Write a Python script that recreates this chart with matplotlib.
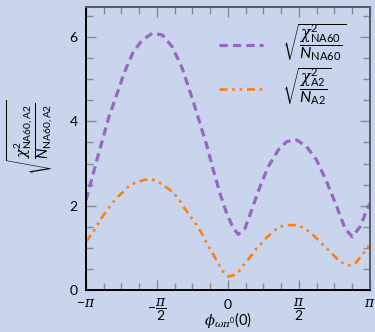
import numpy as np
import matplotlib
matplotlib.use("Agg")
from matplotlib import pyplot as plt
from matplotlib.ticker import MultipleLocator, FixedLocator

plt.rcParams['font.family'] = ['Lato', 'DejaVu Sans']
plt.rcParams['mathtext.fontset'] = 'custom'
plt.rcParams['mathtext.rm'] = 'Lato'
plt.rcParams['mathtext.it'] = 'Lato:italic'
plt.rcParams['mathtext.bf'] = 'Lato:bold'
# greek letters in a serif italic, like the reference
plt.rcParams['mathtext.cal'] = 'DejaVu Serif:italic'

# phase phi (rad) and sqrt(chi2/N)
phi_na60 = [-3.1416, -2.892, -2.766, -2.633, -2.449, -2.301, -2.095, -1.896, -1.675,
            -1.454, -1.233, -1.012, -0.768, -0.620, -0.472, -0.325, -0.177, -0.029,
            0.118, 0.229, 0.376, 0.524, 0.708, 0.892, 1.113, 1.298, 1.520, 1.741,
            1.962, 2.183, 2.405, 2.589, 2.751, 2.920, 3.105, 3.1416]
chi_na60 = [2.13, 3.12, 3.60, 4.11, 4.67, 5.14, 5.65, 5.93, 6.09,
            6.05, 5.77, 5.26, 4.47, 3.95, 3.44, 2.85, 2.29, 1.82,
            1.46, 1.32, 1.46, 1.90, 2.45, 2.93, 3.32, 3.52, 3.56, 3.40,
            3.08, 2.57, 1.98, 1.46, 1.26, 1.50, 1.98, 2.05]

phi_a2 = [-3.1416, -3.112, -2.980, -2.817, -2.670, -2.471, -2.316, -2.206, -2.043,
          -1.821, -1.675, -1.489, -1.327, -1.211, -1.047, -0.989, -0.768, -0.583,
          -0.472, -0.362, -0.214, -0.104, 0.006, 0.155, 0.266, 0.376, 0.524, 0.635,
          0.745, 0.869, 1.040, 1.151, 1.335, 1.520, 1.704, 1.888, 2.109, 2.294,
          2.478, 2.663, 2.811, 2.973, 3.105, 3.1416]
chi_a2 = [1.15, 1.19, 1.38, 1.68, 1.90, 2.18, 2.33, 2.45, 2.55,
          2.62, 2.62, 2.53, 2.41, 2.31, 2.09, 1.98, 1.66, 1.35,
          1.11, 0.91, 0.63, 0.43, 0.32, 0.36, 0.47, 0.63, 0.83, 0.99,
          1.11, 1.26, 1.42, 1.50, 1.54, 1.54, 1.46, 1.30, 1.07, 0.87,
          0.67, 0.58, 0.63, 0.83, 1.03, 1.08]

x_ticks = [-np.pi, -np.pi / 2, 0, np.pi / 2, np.pi]
x_ticklabels = [r'$-\mathcal{\pi}$', r'$-\dfrac{\mathcal{\pi}}{2}$', r'$0$',
                r'$\dfrac{\mathcal{\pi}}{2}$', r'$\mathcal{\pi}$']

bg = '#c9d5ed'
fig = plt.figure(figsize=(3.75, 3.32), dpi=100, facecolor=bg)
ax = fig.add_axes([0.2293, 0.1265, 0.7573, 0.8533], facecolor=bg)

ax.plot(phi_na60, chi_na60, color='#9966c4', lw=2.3,
        linestyle=(0, (2.6, 1.6)),
        label=r'$\sqrt{\dfrac{\mathcal{\chi}^2_{\mathrm{NA60}}}{N_{\mathrm{NA60}}}}$')
ax.plot(phi_a2, chi_a2, color='#ff7f0e', lw=1.9,
        linestyle=(0, (3.0, 1.8, 1.0, 1.8, 1.0, 1.8)),
        label=r'$\sqrt{\dfrac{\mathcal{\chi}^2_{\mathrm{A2}}}{N_{\mathrm{A2}}}}$')

ax.set_xlim(-np.pi, np.pi)
ax.set_ylim(0, 6.72)

ax.xaxis.set_major_locator(FixedLocator(x_ticks))
ax.set_xticklabels(x_ticklabels)
ax.xaxis.set_minor_locator(MultipleLocator(np.pi / 8))
ax.yaxis.set_major_locator(MultipleLocator(2))
ax.yaxis.set_minor_locator(MultipleLocator(0.5))

ax.tick_params(which='both', direction='in', top=True, right=True,
               color='#8a8a8a', width=1.0, labelsize=10, pad=6)
ax.tick_params(axis='x', pad=5)
ax.tick_params(which='major', length=7.5)
ax.tick_params(which='minor', length=5)

for side in ['left', 'bottom']:
    ax.spines[side].set_color('black')
    ax.spines[side].set_linewidth(1.4)
for side in ['top', 'right']:
    ax.spines[side].set_color('#555a66')
    ax.spines[side].set_linewidth(1.4)

ax.set_xlabel(r'$\mathcal{\phi}_{\mathcal{\omega\pi}^0}(0)$', fontsize=10.5)
ax.xaxis.set_label_coords(0.5, -0.106)
ax.xaxis.label.set_va('center')

ax.set_ylabel(r'$\sqrt{\dfrac{\mathcal{\chi}^2_{\mathrm{NA60,A2}}}{N_{\mathrm{NA60,A2}}}}$',
              fontsize=10.5)
ax.yaxis.set_label_coords(-0.197, 0.54)
ax.yaxis.label.set_va('center')

ax.legend(loc='upper left', bbox_to_anchor=(0.468, 0.945), frameon=False,
          fontsize=11.5, handlelength=2.75, handletextpad=1.2,
          labelspacing=0.15, borderpad=0, borderaxespad=0)

fig.savefig('out.png', dpi=100, facecolor=bg)
